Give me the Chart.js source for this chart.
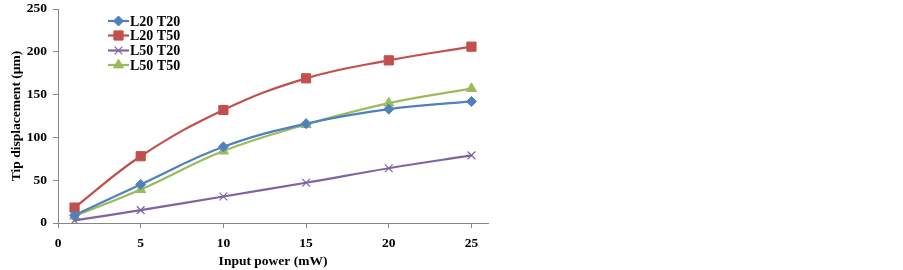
<!DOCTYPE html>
<html>
<head>
<meta charset="utf-8">
<script src="https://cdn.jsdelivr.net/npm/chart.js@4/dist/chart.umd.min.js"></script>
<style>
  html, body { margin: 0; padding: 0; background: #fff; }
  #wrap { width: 903px; height: 270px; }
</style>
</head>
<body>
<div id="wrap"><canvas id="chart"></canvas></div>
<script>
/* --- data --- */
const powerMW = [1, 5, 10, 15, 20, 25];
const l20t20 = [9, 45, 89, 116, 133, 142];
const l20t50 = [18, 78, 132, 169, 190, 206];
const l50t20 = [3, 15, 31, 47, 64, 79];
const l50t50 = [8, 39, 84, 115, 140, 157];
const xTicks = [0, 5, 10, 15, 20, 25];
const yTicks = [0, 50, 100, 150, 200, 250];
const seriesNames = ["L20 T20", "L20 T50", "L50 T20", "L50 T50"];

const FONT = "'Liberation Serif', 'Times New Roman', serif";

function pts(ys) {
    return powerMW.map((x, i) => ({ x: x, y: ys[i] }));
}

function series(label, ys, color, style, r) {
    return {
        label: label,
        data: pts(ys),
        borderColor: color,
        backgroundColor: color,
        borderWidth: 2.2,
        pointStyle: style,
        pointRadius: r,
        pointBorderWidth: style === "crossRot" ? 1.2 : 1,
        pointBorderColor: color,
        tension: 0.4,
        fill: false
    };
}

/* --- legend drawn inside the plot: line + marker + text --- */
const insideLegend = {
    id: "insideLegend",
    afterDraw(chart) {
        const ctx = chart.ctx;
        const rows = [21, 35.5, 50.5, 65];
        ctx.save();
        chart.data.datasets.forEach((ds, i) => {
            const y = rows[i];
            ctx.strokeStyle = ds.borderColor;
            ctx.lineWidth = 2.2;
            ctx.beginPath();
            ctx.moveTo(108, y);
            ctx.lineTo(129, y);
            ctx.stroke();
            ctx.fillStyle = ds.backgroundColor;
            ctx.lineWidth = ds.pointBorderWidth;
            Chart.helpers.drawPoint(ctx, {
                pointStyle: ds.pointStyle,
                radius: ds.pointRadius,
                rotation: 0,
                borderWidth: ds.pointBorderWidth
            }, 118.5, y);
            ctx.fillStyle = "#000";
            ctx.font = "bold 14px " + FONT;
            ctx.textBaseline = "middle";
            ctx.textAlign = "left";
            ctx.fillText(ds.label, 130, y + 1);
        });
        ctx.restore();
    }
};

new Chart(document.getElementById("chart"), {
    type: "line",
    data: {
        datasets: [
            series(seriesNames[0], l20t20, "#4F81BD", "rectRot", 5),
            series(seriesNames[1], l20t50, "#C0504D", "rect", 6.5),
            series(seriesNames[2], l50t20, "#8064A2", "crossRot", 5.5),
            series(seriesNames[3], l50t50, "#9BBB59", "triangle", 5.8)
        ]
    },
    options: {
        responsive: true,
        maintainAspectRatio: false,
        animation: false,
        layout: { padding: { left: 0, top: 0, right: 415, bottom: 0 } },
        plugins: {
            legend: { display: false },
            tooltip: { enabled: false }
        },
        scales: {
            x: {
                type: "linear",
                min: 0,
                max: 26,
                afterBuildTicks: s => { s.ticks = xTicks.map(v => ({ value: v })); },
                afterFit: s => { s.height = 47; },
                grid: { drawOnChartArea: false, tickLength: 5, color: "#868686" },
                border: { color: "#868686", width: 1 },
                ticks: { color: "#000", font: { family: FONT, size: 13.5, weight: "bold" }, padding: 7, maxRotation: 0 },
                title: {
                    display: true,
                    text: "Input power (mW)",
                    color: "#000",
                    font: { family: FONT, size: 13.5, weight: "bold" },
                    padding: { top: 4, bottom: 0 }
                }
            },
            y: {
                min: 0,
                max: 250,
                afterBuildTicks: s => { s.ticks = yTicks.map(v => ({ value: v })); },
                afterFit: s => { s.width = 58; s.paddingTop = 9; s.paddingBottom = 0; },
                grid: { drawOnChartArea: false, tickLength: 5, color: "#868686" },
                border: { color: "#868686", width: 1 },
                ticks: { color: "#000", font: { family: FONT, size: 13.5, weight: "bold" }, padding: 6 },
                title: {
                    display: true,
                    text: "Tip displacement (µm)",
                    color: "#000",
                    font: { family: FONT, size: 13.5, weight: "bold" },
                    padding: { top: 8, bottom: 0 }
                }
            }
        }
    },
    plugins: [insideLegend]
});
</script>
</body>
</html>
